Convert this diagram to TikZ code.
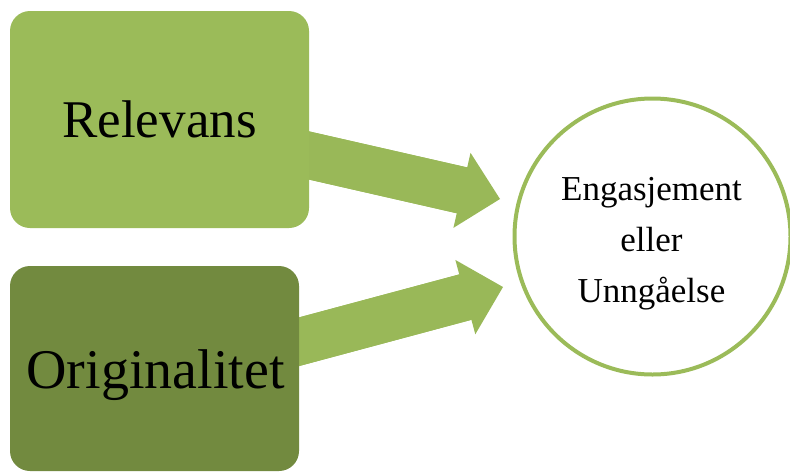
\documentclass[tikz,border=0pt]{standalone}
\usepackage{fontspec}
\setmainfont{Liberation Serif}
\usetikzlibrary{arrows.meta,calc}
\definecolor{leaf}{HTML}{9BBB59}
\definecolor{olive}{HTML}{728A3F}
\definecolor{shaft}{HTML}{99B858}
\tikzset{
  panel/.style={rounded corners=20pt, inner sep=0pt, text=black},
  bigarrow/.style={line width=47pt, draw=shaft,
    -{Triangle[line width=0pt, length=39pt, width=77pt]}},
  shaftonly/.style={line width=47pt, draw=shaft},
  ring/.style={circle, draw=leaf, line width=4pt, minimum size=276pt, inner sep=0pt}
}
\begin{document}
\begin{tikzpicture}[x=1pt, y=-1pt]
  \useasboundingbox (0,0) rectangle (790,472);
  % anchor points of the two block arrows
  \coordinate (s1) at (160,121.5);
  \coordinate (t1) at (500,199);
  \coordinate (s2) at (154.5,380.5);
  \coordinate (t2) at (503,287);
  % arrows first, so the boxes cover their tails
  \draw[bigarrow] (s1) -- (t1);
  \draw[shaftonly] (s1) -- ($(t1)!34pt!(s1)$);
  \draw[bigarrow] (s2) -- (t2);
  \draw[shaftonly] (s2) -- ($(t2)!34pt!(s2)$);
  % source boxes
  \node[panel, fill=leaf, minimum width=299pt, minimum height=217pt,
        font=\fontsize{53}{60}\selectfont] (rel) at (159.5,119.5) {Relevans};
  \node[panel, fill=olive, minimum width=289pt, minimum height=205pt] (org) at (154.5,368.5) {};
  \node[font=\fontsize{56}{60}\selectfont, anchor=base, inner sep=0pt]
    (orgtext) at (155.5,388) {Originalitet};
  % target circle
  \node[ring] (res) at (652.5,236.5) {};
  \node[align=center, font=\fontsize{35}{51}\selectfont, inner sep=0pt, anchor=base]
    (restext) at (651.5,302) {Engasjement\\eller\\Unngåelse};
\end{tikzpicture}
\end{document}
